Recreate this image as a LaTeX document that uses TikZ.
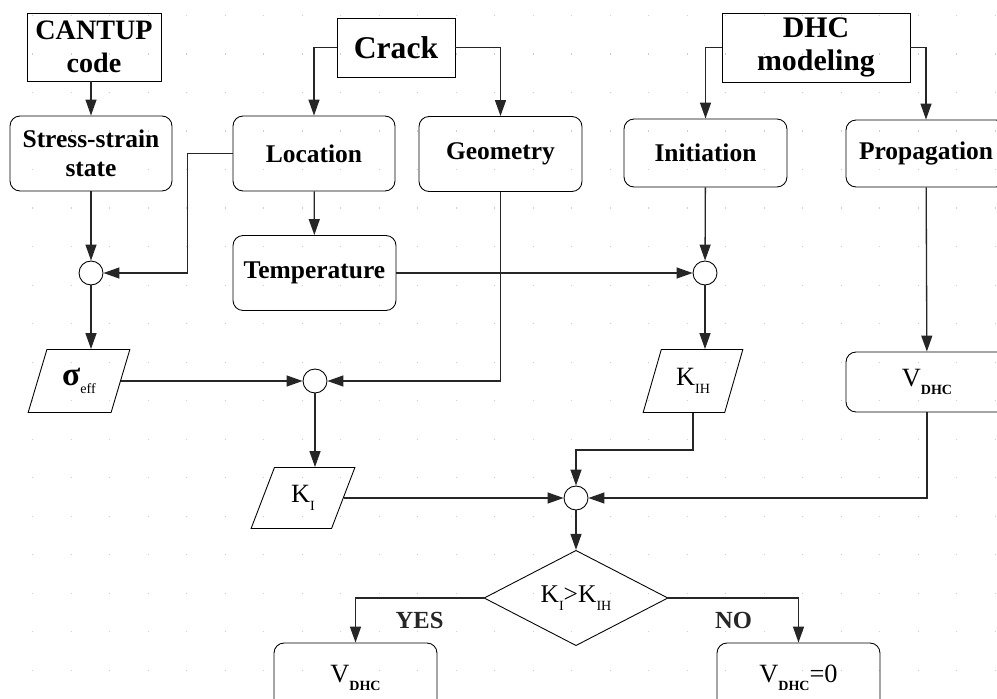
\documentclass[tikz,border=0pt]{standalone}
\usepackage{fontspec}
\setmainfont{Liberation Serif}
\usetikzlibrary{arrows.meta, shapes.geometric, calc}
\newcommand{\hdrfont}{\fontsize{17}{19}\selectfont\bfseries}
\newcommand{\boxfont}{\fontsize{14.5}{16.5}\selectfont\bfseries}
\newcommand{\valfont}{\fontsize{15}{17}\selectfont}
\newcommand{\lowsub}[1]{\raisebox{-0.16cm}{\fontsize{8}{9}\selectfont #1}}

\begin{document}
\begin{tikzpicture}[
  x=0.02cm, y=-0.02cm,
  griddot/.style={black!20},
  src/.style={draw, line width=0.5pt, inner sep=0pt, align=center, font=\hdrfont},
  proc/.style={draw, rounded corners=0.2cm, line width=0.5pt, inner sep=0pt,
    align=center, font=\boxfont, minimum width=3.24cm, minimum height=1.5cm},
  data/.style={draw, trapezium, trapezium left angle=69, trapezium right angle=111,
    trapezium stretches=true, line width=0.5pt, inner sep=0pt,
    minimum height=1.26cm, font=\valfont},
  sum/.style={draw, circle, line width=0.5pt, minimum size=0.48cm, inner sep=0pt},
  test/.style={draw, diamond, line width=0.5pt, inner sep=0pt,
    minimum width=3.68cm, minimum height=1.64cm},
  flow/.style={-{Triangle[length=0.32cm, width=0.22cm]}, line width=0.75pt, black!85},
  lbl/.style={font=\fontsize{14}{16}\selectfont\bfseries, inner sep=0pt},
]
  \useasboundingbox (0,0) rectangle (997,699);

  %% dotted grid
  \foreach \i in {0,...,25}
    \foreach \j in {0,...,17}
      \fill[griddot] ({32+38.5*\i},{15+38.5*\j}) rectangle ++(1.3,1.3);

  %% sources
  \node[src, minimum width=2.68cm, minimum height=1.36cm,
    font=\fontsize{16}{18.5}\selectfont\bfseries] (cantup) at (94,47) {CANTUP\\code};
  \node[src, minimum width=2.36cm, minimum height=1.18cm,
    font=\fontsize{18}{20}\selectfont\bfseries] (crack) at (396,47.5) {Crack};
  \node[src, minimum width=3.76cm, minimum height=1.38cm] (dhc) at (816,47.5) {DHC\\modeling};

  %% processes
  \node[proc] (stress) at (91,153.5) {Stress-strain\\state};
  \node[proc] (loc) at (314,153.5) {Location};
  \node[proc, minimum width=3.26cm] (geom) at (500.5,154) {Geometry};
  \node[proc, minimum width=3.26cm, minimum height=1.36cm] (init) at (705.5,153) {Initiation};
  \node[proc, minimum width=3.2cm, minimum height=1.34cm] (prop) at (926,153.5) {Propagation};
  \node[proc, minimum width=3.26cm] (temp) at (314.5,273) {Temperature};

  %% junctions
  \node[sum] (c1) at (91,273) {};
  \node[sum] (c2) at (705,273) {};
  \node[sum] (c3) at (315,381) {};
  \node[sum] (c4) at (576,498) {};

  %% data
  \node[data, minimum width=2.04cm] (sig) at (79,381)
    {{\fontsize{19}{20}\selectfont\bfseries σ}\lowsub{eff}};
  \node[data, minimum width=2.0cm] (kih) at (693,381) {K\lowsub{IH}};
  \node[data, minimum width=2.08cm, minimum height=1.22cm] (ki) at (303,498) {K\lowsub{I}};
  \node[proc, font=\valfont, minimum height=1.2cm] (vprop) at (927,382) {V\lowsub{\bfseries DHC}};

  %% decision
  \node[test] (cmp) at (576,598) {\fontsize{14.5}{16}\selectfont K\lowsub{I}>K\lowsub{IH}};
  \node[proc, font=\valfont, minimum width=3.26cm, minimum height=1.4cm] (vyes) at (355.5,678)
    {V\lowsub{\bfseries DHC}};
  \node[proc, font=\valfont, minimum width=3.26cm, minimum height=1.4cm] (vno) at (798.5,678)
    {V\lowsub{\bfseries DHC}=0};

  %% connectors
  \draw[flow] (cantup.south -| stress.north) -- (stress);
  \draw[flow] (crack.west) -| (loc.north);
  \draw[flow] (crack.east) -| (geom.north);
  \draw[flow] (dhc.west) -| (init.north);
  \draw[flow] (dhc.east) -| (prop.north);
  \draw[flow] (stress) -- (c1);
  \draw[flow] (loc.west) -- ++(-45,0) |- (c1.east);
  \draw[flow] (loc) -- (temp);
  \draw[flow] (temp) -- (c2);
  \draw[flow] (init) -- (c2);
  \draw[flow] (c1) -- (c1 |- sig.north);
  \draw[flow] (sig.right side) -- (c3);
  \draw[flow] (geom.south) |- (c3.east);
  \draw[flow] (c2) -- (c2 |- kih.north);
  \draw[flow] (c3) -- (c3 |- ki.north);
  \draw[flow] (prop) -- (vprop);
  \draw[flow] (kih.south) -- ++(0,37) -| (c4.north);
  \draw[flow] (ki.right side) -- (c4);
  \draw[flow] (vprop.south) |- (c4.east);
  \draw[flow] (c4) -- (cmp);
  \draw[flow] (cmp.west) -| node[lbl, pos=0.25, below=0.28cm] (yes) {YES} (vyes.north);
  \draw[flow] (cmp.east) -| node[lbl, pos=0.25, below=0.28cm] (no) {NO} (vno.north);
\end{tikzpicture}
\end{document}
